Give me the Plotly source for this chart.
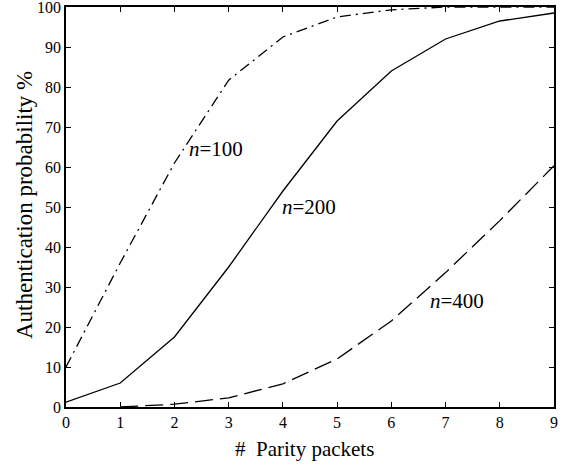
import plotly.graph_objects as go

x_vals = [0, 1, 2, 3, 4, 5, 6, 7, 8, 9]
n100 = [10, 36, 61, 81.7, 92.5, 97.5, 99.3, 100, 100, 100]
n200 = [1.2, 6, 17.5, 35, 54, 71.5, 84, 92, 96.5, 98.5]
x400 = [1, 2, 3, 4, 5, 6, 7, 8, 9]
n400 = [0, 0.7, 2.3, 5.8, 12, 21.5, 33.6, 46.6, 60.3]

labels = ["<i>n</i>=100", "<i>n</i>=200", "<i>n</i>=400"]
label_x = [2.23, 3.95, 6.68]
label_y = [64.4, 50, 26.6]

x_ticks = list(range(0, 10))
y_ticks = list(range(0, 101, 10))

FONT = "Liberation Serif"

fig = go.Figure()
fig.add_trace(go.Scatter(x=x_vals, y=n100, mode="lines",
                         line=dict(color="black", width=1.3, dash="11px,5px,2px,5px")))
fig.add_trace(go.Scatter(x=x_vals, y=n200, mode="lines",
                         line=dict(color="black", width=1.3)))
fig.add_trace(go.Scatter(x=x400, y=n400, mode="lines",
                         line=dict(color="black", width=1.3, dash="18px,7px")))

for t, lx, ly in zip(labels, label_x, label_y):
    fig.add_annotation(x=lx, y=ly, text=t, showarrow=False, xanchor="left",
                       yanchor="middle", font=dict(family=FONT, size=21, color="black"))

fig.add_annotation(xref="paper", yref="paper", x=0.488, y=-0.105,
                   text="#\u00a0 Parity packets", showarrow=False,
                   xanchor="center", yanchor="middle",
                   font=dict(family=FONT, size=21, color="black"))
fig.add_annotation(xref="paper", yref="paper", x=-0.086, y=0.505,
                   text="Authentication probability %", showarrow=False, textangle=-90,
                   xanchor="center", yanchor="middle",
                   font=dict(family=FONT, size=23, color="black"))

axis_common = dict(showgrid=False, zeroline=False, showline=True, linecolor="black",
                   linewidth=1.5, mirror="allticks", ticks="inside", ticklen=5,
                   tickcolor="black", automargin=False, ticklabeloverflow="allow",
                   tickfont=dict(family=FONT, size=16, color="black"))

fig.update_xaxes(range=[0, 9], tickvals=x_ticks, **axis_common)
fig.update_yaxes(range=[0, 100], tickvals=y_ticks, **axis_common)

fig.update_layout(width=567, height=465, showlegend=False,
                  plot_bgcolor="white", paper_bgcolor="white",
                  font=dict(family=FONT, color="black"),
                  margin=dict(l=66, r=13, t=7, b=58))

fig.write_html("out.html", config={"displayModeBar": False},
               post_script="document.body.style.margin='0';")
